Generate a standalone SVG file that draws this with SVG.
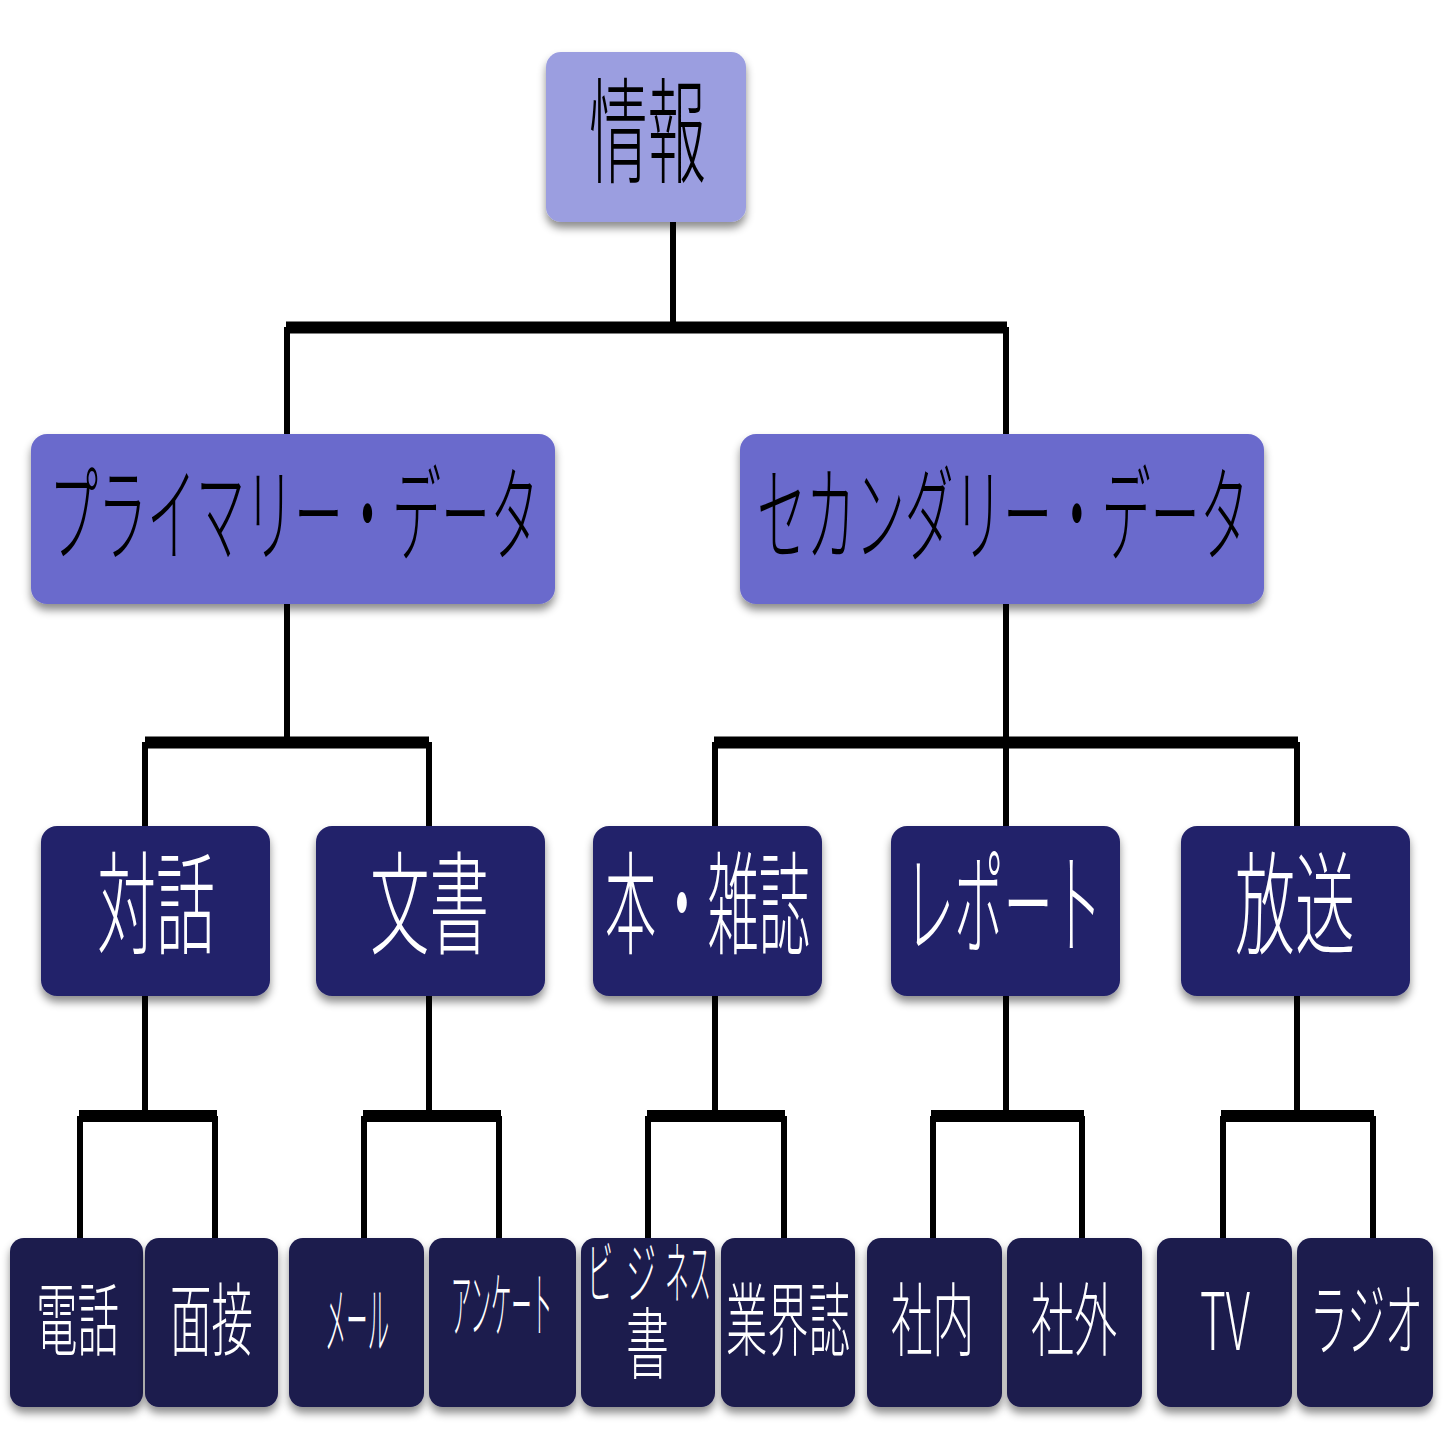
<svg xmlns="http://www.w3.org/2000/svg" width="1447" height="1447" viewBox="0 0 1447 1447">
<defs>
<filter id="sh" x="-10%" y="-10%" width="120%" height="130%">
<feDropShadow dx="0" dy="6" stdDeviation="4" flood-color="#000" flood-opacity="0.45"/>
</filter>
</defs>
<style>
.t{font-family:"Noto Sans CJK JP","Noto Sans",sans-serif;font-weight:300;}
.dk{fill:#000;}
.lt{fill:#fff;}
.n0{fill:#9b9ee0;filter:url(#sh);}
.n1{fill:#6b6bcc;filter:url(#sh);}
.n2{fill:#24236a;filter:url(#sh);}
.n3{fill:#1b1a4d;filter:url(#sh);}
.v{stroke:#000;stroke-width:6;fill:none;}
.b{stroke:#000;stroke-width:12;fill:none;}
</style>
<rect width="1447" height="1447" fill="#fff"/>
<g id="connectors">
<line class="v" x1="673" y1="222" x2="673" y2="327"/>
<line class="b" x1="286" y1="327.5" x2="1007" y2="327.5"/>
<line class="v" x1="287" y1="327" x2="287" y2="434"/>
<line class="v" x1="1006" y1="327" x2="1006" y2="434"/>
<line class="v" x1="287" y1="604" x2="287" y2="742"/>
<line class="v" x1="1006" y1="604" x2="1006" y2="826"/>
<line class="b" x1="145" y1="742.5" x2="429" y2="742.5"/>
<line class="b" x1="714" y1="742.5" x2="1298" y2="742.5"/>
<line class="v" x1="145" y1="742" x2="145" y2="826"/>
<line class="v" x1="429" y1="742" x2="429" y2="826"/>
<line class="v" x1="715" y1="742" x2="715" y2="826"/>
<line class="v" x1="1297" y1="742" x2="1297" y2="826"/>
<line class="v" x1="145" y1="996" x2="145" y2="1116"/>
<line class="v" x1="429" y1="996" x2="429" y2="1116"/>
<line class="v" x1="715" y1="996" x2="715" y2="1116"/>
<line class="v" x1="1006" y1="996" x2="1006" y2="1116"/>
<line class="v" x1="1297" y1="996" x2="1297" y2="1116"/>
<line class="b" x1="79" y1="1116" x2="217" y2="1116"/>
<line class="b" x1="363" y1="1116" x2="501" y2="1116"/>
<line class="b" x1="647" y1="1116" x2="785" y2="1116"/>
<line class="b" x1="931" y1="1116" x2="1084" y2="1116"/>
<line class="b" x1="1221" y1="1116" x2="1374" y2="1116"/>
<line class="v" x1="80" y1="1116" x2="80" y2="1238"/>
<line class="v" x1="215" y1="1116" x2="215" y2="1238"/>
<line class="v" x1="364" y1="1116" x2="364" y2="1238"/>
<line class="v" x1="499" y1="1116" x2="499" y2="1238"/>
<line class="v" x1="648" y1="1116" x2="648" y2="1238"/>
<line class="v" x1="784" y1="1116" x2="784" y2="1238"/>
<line class="v" x1="933" y1="1116" x2="933" y2="1238"/>
<line class="v" x1="1082" y1="1116" x2="1082" y2="1238"/>
<line class="v" x1="1223" y1="1116" x2="1223" y2="1238"/>
<line class="v" x1="1373" y1="1116" x2="1373" y2="1238"/>
</g>
<g id="n-jouhou">
<rect class="n0" x="546" y="52" width="200" height="170" rx="15"/>
<text class="t dk" x="589" y="174" font-size="115" textLength="117" lengthAdjust="spacingAndGlyphs">情報</text>
</g>
<g id="n-primary">
<rect class="n1" x="31" y="434" width="524" height="170" rx="16"/>
<text class="t dk" x="49" y="553" font-size="105" textLength="490" lengthAdjust="spacingAndGlyphs">プライマリー・データ</text>
</g>
<g id="n-secondary">
<rect class="n1" x="740" y="434" width="524" height="170" rx="16"/>
<text class="t dk" x="757" y="553" font-size="105" textLength="492" lengthAdjust="spacingAndGlyphs">セカンダリー・データ</text>
</g>
<g id="n-taiwa">
<rect class="n2" x="41" y="826" width="229" height="170" rx="16"/>
<text class="t lt" x="97" y="946" font-size="112" textLength="118" lengthAdjust="spacingAndGlyphs">対話</text>
</g>
<g id="n-bunsho">
<rect class="n2" x="316" y="826" width="229" height="170" rx="16"/>
<text class="t lt" x="370" y="946" font-size="112" textLength="119" lengthAdjust="spacingAndGlyphs">文書</text>
</g>
<g id="n-hon">
<rect class="n2" x="593" y="826" width="229" height="170" rx="16"/>
<text class="t lt" x="605" y="946" font-size="112" textLength="205" lengthAdjust="spacingAndGlyphs">本・雑誌</text>
</g>
<g id="n-report">
<rect class="n2" x="891" y="826" width="229" height="170" rx="16"/>
<text class="t lt" x="905" y="946" font-size="112" textLength="197" lengthAdjust="spacingAndGlyphs">レポート</text>
</g>
<g id="n-housou">
<rect class="n2" x="1181" y="826" width="229" height="170" rx="16"/>
<text class="t lt" x="1235" y="946" font-size="112" textLength="120" lengthAdjust="spacingAndGlyphs">放送</text>
</g>
<g id="n-denwa">
<rect class="n3" x="10" y="1238" width="133" height="169" rx="14"/>
<text class="t lt" x="36" y="1349" font-size="80" textLength="83" lengthAdjust="spacingAndGlyphs">電話</text>
</g>
<g id="n-mensetsu">
<rect class="n3" x="145" y="1238" width="133" height="169" rx="14"/>
<text class="t lt" x="170" y="1349" font-size="80" textLength="83" lengthAdjust="spacingAndGlyphs">面接</text>
</g>
<g id="n-mail">
<rect class="n3" x="289" y="1238" width="135" height="169" rx="14"/>
<text class="t lt" x="325" y="1348" font-size="75" textLength="64" lengthAdjust="spacingAndGlyphs">メール</text>
</g>
<g id="n-enquete">
<rect class="n3" x="429" y="1238" width="147" height="169" rx="14"/>
<text class="t lt" x="451" y="1331" font-size="72" textLength="101" lengthAdjust="spacingAndGlyphs">アンケート</text>
</g>
<g id="n-business">
<rect class="n3" x="581" y="1238" width="134" height="169" rx="14"/>
<text class="t lt" x="587" y="1298" font-size="68" textLength="26" lengthAdjust="spacingAndGlyphs">ビ</text>
<text class="t lt" x="626" y="1298" font-size="68" textLength="30" lengthAdjust="spacingAndGlyphs">ジ</text>
<text class="t lt" x="665" y="1298" font-size="68" textLength="24" lengthAdjust="spacingAndGlyphs">ネ</text>
<text class="t lt" x="689" y="1298" font-size="68" textLength="22" lengthAdjust="spacingAndGlyphs">ス</text>
<text class="t lt" x="626" y="1373" font-size="78" textLength="43" lengthAdjust="spacingAndGlyphs">書</text>
</g>
<g id="n-gyoukai">
<rect class="n3" x="721" y="1238" width="134" height="169" rx="14"/>
<text class="t lt" x="726" y="1349" font-size="80" textLength="124" lengthAdjust="spacingAndGlyphs">業界誌</text>
</g>
<g id="n-shanai">
<rect class="n3" x="867" y="1238" width="135" height="169" rx="14"/>
<text class="t lt" x="891" y="1349" font-size="80" textLength="83" lengthAdjust="spacingAndGlyphs">社内</text>
</g>
<g id="n-shagai">
<rect class="n3" x="1007" y="1238" width="135" height="169" rx="14"/>
<text class="t lt" x="1031" y="1349" font-size="80" textLength="86" lengthAdjust="spacingAndGlyphs">社外</text>
</g>
<g id="n-tv">
<rect class="n3" x="1157" y="1238" width="135" height="169" rx="14"/>
<text class="t lt" x="1200" y="1350" font-size="80" textLength="50" lengthAdjust="spacingAndGlyphs">TV</text>
</g>
<g id="n-radio">
<rect class="n3" x="1297" y="1238" width="136" height="169" rx="14"/>
<text class="t lt" x="1310" y="1349" font-size="80" textLength="113" lengthAdjust="spacingAndGlyphs">ラジオ</text>
</g>
</svg>
